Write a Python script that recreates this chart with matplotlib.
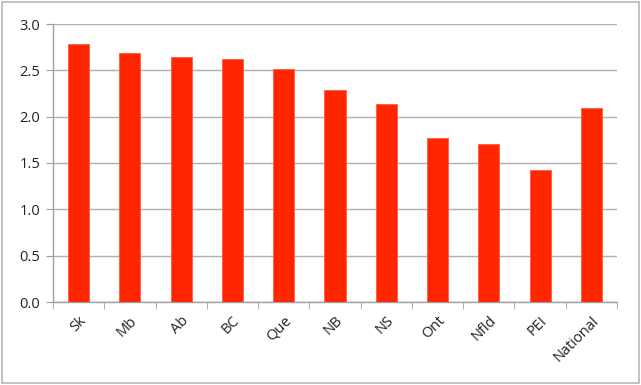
import numpy as np
import matplotlib.pyplot as plt
from matplotlib.patches import Rectangle

regions = ['Sk', 'Mb', 'Ab', 'BC', 'Que', 'NB', 'NS', 'Ont', 'Nfld', 'PEI', 'National']
values = [2.78, 2.69, 2.64, 2.62, 2.51, 2.29, 2.14, 1.77, 1.70, 1.42, 2.09]
yticks = [0.0, 0.5, 1.0, 1.5, 2.0, 2.5, 3.0]

plt.rcParams['font.family'] = ['Open Sans', 'DejaVu Sans']

fig = plt.figure(figsize=(6.41, 3.85), dpi=100, facecolor='white')
ax = fig.add_axes([53/641, 1 - 302/385, (617 - 53)/641, (302 - 24)/385])

x = np.arange(len(regions))
ax.bar(x, values, width=0.41, color='#ff2600', edgecolor='#ff5a40', linewidth=0.6, zorder=3)

ax.set_xlim(-0.5, len(regions) - 0.5)
ax.set_ylim(0, 3.0)
ax.set_yticks(yticks)
ax.set_yticklabels([f'{v:.1f}' for v in yticks], fontsize=10.5, color='#222222')
ax.yaxis.grid(True, color='#b0b0b0', linewidth=1.0, zorder=0)

ax.set_xticks(x)
ax.set_xticklabels(regions, rotation=45, ha='right', rotation_mode='anchor', fontsize=10.5, color='#222222')
ax.tick_params(axis='x', length=0, pad=8)
ax.set_xticks(np.arange(-0.5, len(regions)), minor=True)
ax.tick_params(axis='x', which='minor', length=5, color='#a0a0a0', direction='out')
ax.tick_params(axis='y', length=5, color='#a0a0a0', pad=4)

for s in ['top', 'right']:
    ax.spines[s].set_visible(False)
for s in ['left', 'bottom']:
    ax.spines[s].set_color('#a0a0a0')
    ax.spines[s].set_linewidth(1.0)

fig.patches.append(Rectangle((0.003, 0.004), 0.994, 0.992, transform=fig.transFigure,
                             fill=False, edgecolor='#b8b8b8', linewidth=1.2))

plt.savefig('out.png', dpi=100, facecolor='white')
